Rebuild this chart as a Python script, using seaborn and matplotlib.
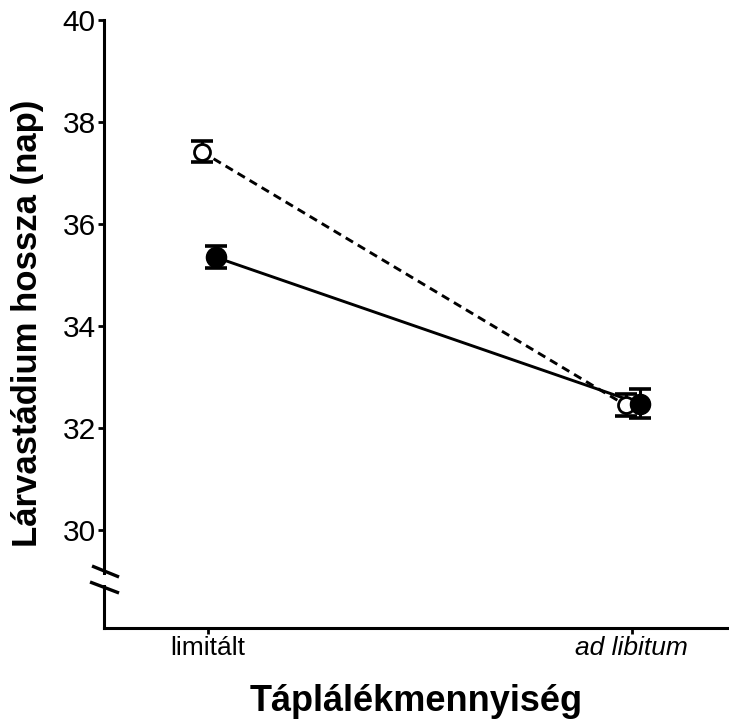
import matplotlib
matplotlib.use("Agg")
import matplotlib.pyplot as plt
import seaborn as sns
import pandas as pd
import numpy as np

# Feeding treatment categories and the two groups' mean larval duration (days)
categories = ["limitált", "ad libitum"]
open_means = [37.42, 32.45]
open_se = [0.20, 0.22]
filled_means = [35.35, 32.48]
filled_se = [0.21, 0.28]

y_ticks = [30, 32, 34, 36, 38, 40]

sns.set_style("ticks")
plt.rcParams["font.family"] = ["Liberation Sans", "DejaVu Sans"]
for key in ["text.color", "axes.labelcolor", "xtick.color", "ytick.color"]:
    plt.rcParams[key] = "black"

fig = plt.figure(figsize=(7.29, 7.22), dpi=100)
ax_rect = [0.1427, 0.1302, 0.8573, 0.8421]
ax = fig.add_axes(ax_rect)
w_ax = ax_rect[2] * 729
h_ax = ax_rect[3] * 722

def px_to_ax(px, py):
    return ((px - 104) / w_ax, (628 - py) / h_ax)

base = np.arange(len(categories), dtype=float)
# small horizontal dodge so the two groups do not sit on top of each other
open_x = base - 0.015
filled_x = base + 0.018

df = pd.concat([
    pd.DataFrame({"x": open_x, "y": open_means, "se": open_se, "group": "open"}),
    pd.DataFrame({"x": filled_x, "y": filled_means, "se": filled_se, "group": "filled"}),
])

styles = {
    "open": dict(linestyle=(0, (2.9, 1.9)), mfc="white", ms=11.5, mew=2.0),
    "filled": dict(linestyle="-", mfc="black", ms=14.5, mew=1.0),
}

for grp in ["open", "filled"]:
    sub = df[df["group"] == grp]
    st = styles[grp]
    sns.lineplot(data=sub, x="x", y="y", ax=ax, color="black", lw=2.1,
                 linestyle=st["linestyle"], sort=False, legend=False, zorder=2)
    ax.errorbar(sub["x"], sub["y"], yerr=sub["se"], fmt="none", ecolor="black",
                elinewidth=2.2, capsize=8, capthick=2.6, zorder=3)
    ax.plot(sub["x"], sub["y"], linestyle="none", marker="o", ms=st["ms"],
            mfc=st["mfc"], mec="black", mew=st["mew"], zorder=4)

ax.set_xlim(-0.245, 1.229)
ax.set_ylim(28.08, 40.0)
ax.set_xticks(base)
ax.set_xticklabels(categories, fontsize=19)
ax.get_xticklabels()[1].set_style("italic")
ax.set_yticks(y_ticks)
ax.set_yticklabels([str(t) for t in y_ticks], fontsize=21.5)

for side in ["top", "right"]:
    ax.spines[side].set_visible(False)
for side in ["left", "bottom"]:
    ax.spines[side].set_linewidth(2.2)
    ax.spines[side].set_color("black")
ax.tick_params(axis="both", width=2.0, length=4, color="black", pad=2)

ax.set_xlabel("Táplálékmennyiség", fontsize=26, fontweight="bold")
ax.set_ylabel("Lárvastádium hossza (nap)", fontsize=25, fontweight="bold")
ax.xaxis.set_label_coords(*px_to_ax(416, 684))
ax.yaxis.set_label_coords(*px_to_ax(44, 323))

# axis break marks on the y axis
trans = ax.transAxes
gx0, gy0 = px_to_ax(98, 575)
gx1, gy1 = px_to_ax(110, 585)
ax.add_patch(plt.Rectangle((gx0, gy1), gx1 - gx0, gy0 - gy1, transform=trans,
                           facecolor="white", edgecolor="none", clip_on=False, zorder=5))
for (xa, ya, xb, yb) in [(92, 566, 119, 577), (90, 582, 119, 593)]:
    p0 = px_to_ax(xa, ya)
    p1 = px_to_ax(xb, yb)
    ax.plot([p0[0], p1[0]], [p0[1], p1[1]], transform=trans, color="black",
            lw=2.4, clip_on=False, zorder=6, solid_capstyle="butt")

fig.savefig("out.png", dpi=100)
